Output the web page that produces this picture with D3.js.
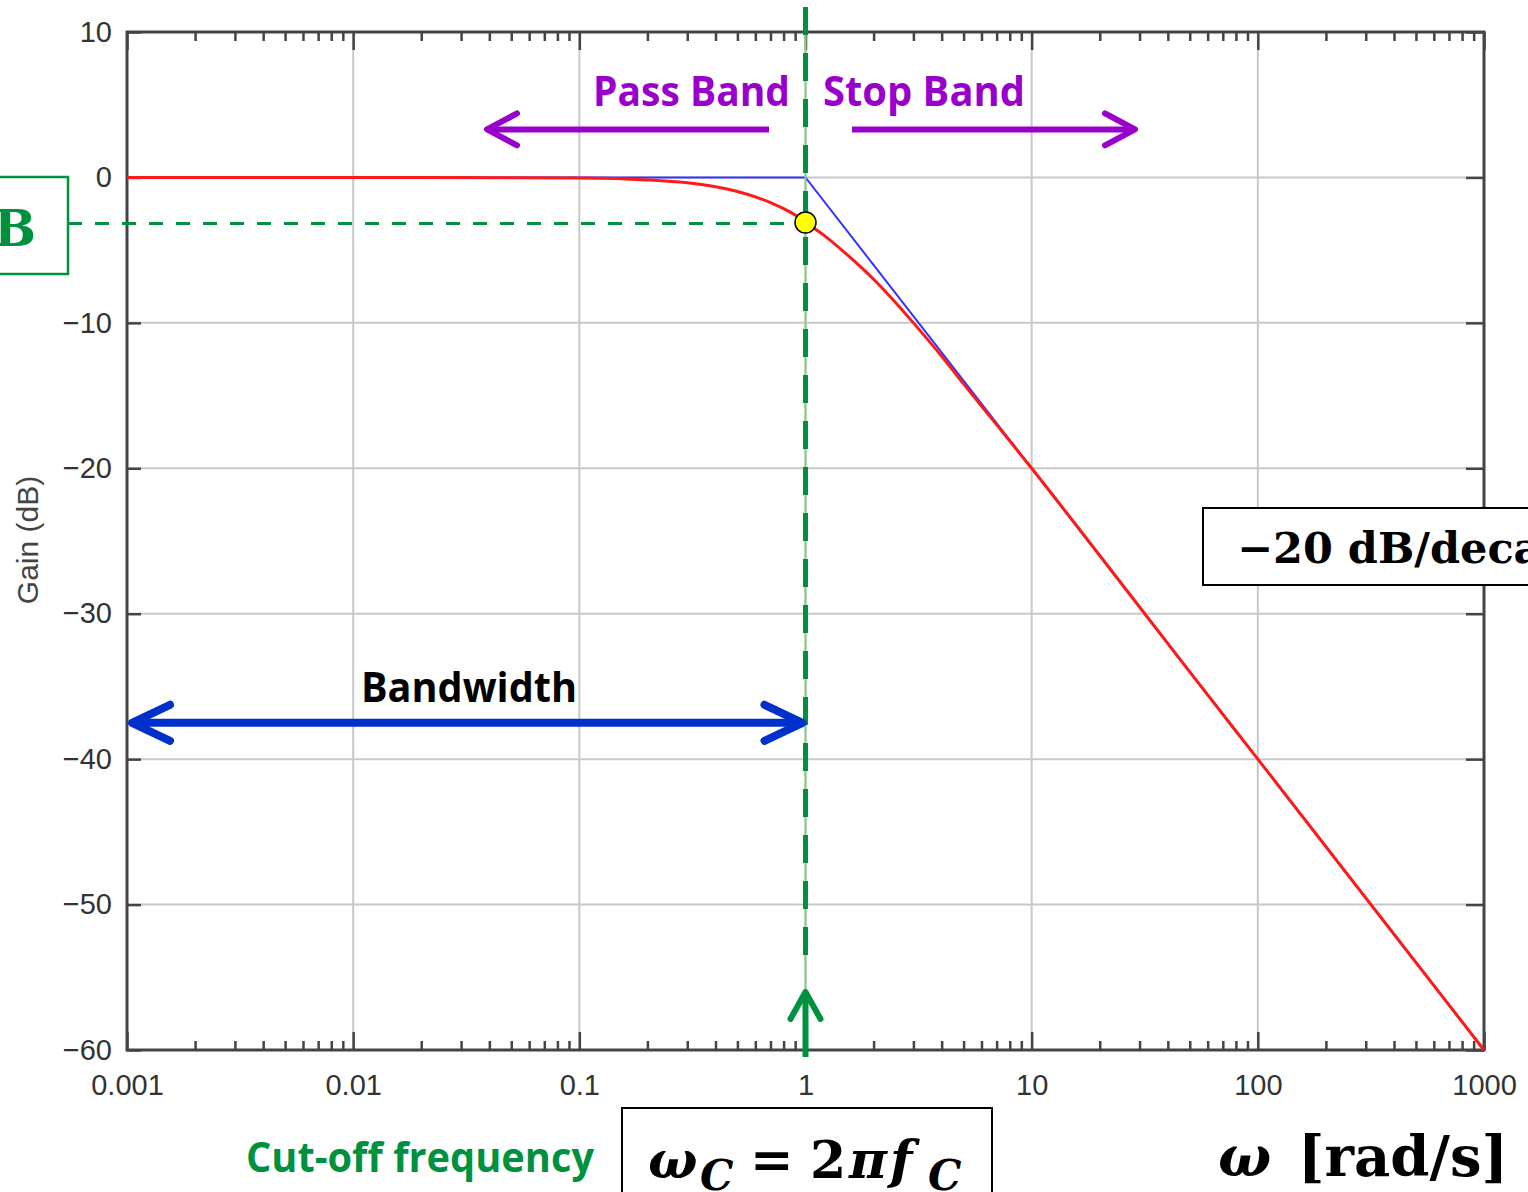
<!DOCTYPE html>
<html>
<head>
<meta charset="utf-8">
<script src="https://cdn.jsdelivr.net/npm/d3@7"></script>
<style>
  body { margin: 0; background: #fff; }
  svg { display: block; }
  .axis text { font-family: "Liberation Sans", Arial, sans-serif; font-size: 29px; fill: #333; }
  .axis path { display: none; }
  .axis line { stroke: #444; stroke-width: 2.5; }
</style>
</head>
<body>
<script>
// low-pass gain
const freq = [0.001, 0.01, 0.1, 0.2, 0.3, 0.4, 0.5, 0.6, 0.7, 0.8, 0.9, 1, 1.2, 1.5, 2, 2.5, 3, 4, 5, 7, 10, 20, 50, 100, 1000];
const gain = [0, 0, -0.04, -0.17, -0.37, -0.64, -0.97, -1.34, -1.73, -2.15, -2.58, -3.1, -3.95, -5.2, -7.0, -8.6, -10.0, -12.3, -14.2, -17.0, -20.0, -26.0, -34.0, -40.0, -60.0];

// straight-line asymptote
const asymFreq = [0.001, 1, 1000];
const asymGain = [0, 0, -60];

const cutoffFreq = 1, cutoffGain = -3.1;

const xTicks = [0.001, 0.01, 0.1, 1, 10, 100, 1000];
const xTickLabels = ["0.001", "0.01", "0.1", "1", "10", "100", "1000"];
const yTicks = [10, 0, -10, -20, -30, -40, -50, -60];

const W = 1528, H = 1192;
const margin = { top: 32, right: 1484, bottom: 1050, left: 127 };

const x = d3.scaleLog().domain([0.001, 1000]).range([margin.left, margin.right]);
const y = d3.scaleLinear().domain([-60, 10]).range([margin.bottom, margin.top]);

const svg = d3.select("body").append("svg")
    .attr("width", W)
    .attr("height", H);

const green = "#00913f", purple = "#9900cc", blue = "#0030cc";

// grid
svg.append("g")
    .selectAll("line")
    .data(xTicks)
    .enter().append("line")
      .attr("x1", d => x(d)).attr("x2", d => x(d))
      .attr("y1", margin.top).attr("y2", margin.bottom)
      .attr("stroke", "#c8c8c8").attr("stroke-width", 2);

svg.append("g")
    .selectAll("line")
    .data(yTicks)
    .enter().append("line")
      .attr("x1", margin.left).attr("x2", margin.right)
      .attr("y1", d => y(d)).attr("y2", d => y(d))
      .attr("stroke", "#c8c8c8").attr("stroke-width", 2);

// minor ticks
const minor = [];
for (let e = -3; e < 3; e++) for (let k = 2; k <= 9; k++) minor.push(k * Math.pow(10, e));

svg.append("g").attr("class", "axis")
    .attr("transform", `translate(0,${margin.bottom})`)
    .call(d3.axisBottom(x).tickValues(minor).tickSize(-9).tickFormat(""));
svg.append("g").attr("class", "axis")
    .attr("transform", `translate(0,${margin.top})`)
    .call(d3.axisTop(x).tickValues(minor).tickSize(-9).tickFormat(""));

// major ticks + labels
svg.append("g").attr("class", "axis")
    .attr("transform", `translate(0,${margin.bottom})`)
    .call(d3.axisBottom(x).tickValues(xTicks).tickSize(-18).tickPadding(24)
      .tickFormat((d, i) => xTickLabels[i]));
svg.append("g").attr("class", "axis")
    .attr("transform", `translate(0,${margin.top})`)
    .call(d3.axisTop(x).tickValues(xTicks).tickSize(-18).tickFormat(""));
svg.append("g").attr("class", "axis")
    .attr("transform", `translate(${margin.left},0)`)
    .call(d3.axisLeft(y).tickValues(yTicks).tickSize(-14).tickPadding(15));
svg.append("g").attr("class", "axis")
    .attr("transform", `translate(${margin.right},0)`)
    .call(d3.axisRight(y).tickValues(yTicks).tickSize(-18).tickFormat(""));

// frame
svg.append("rect")
    .attr("x", margin.left).attr("y", margin.top)
    .attr("width", margin.right - margin.left).attr("height", margin.bottom - margin.top)
    .attr("fill", "none").attr("stroke", "#444").attr("stroke-width", 3);

svg.append("text")
    .attr("transform", "translate(38,540) rotate(-90)")
    .attr("text-anchor", "middle")
    .attr("font-family", "Liberation Sans, Arial, sans-serif")
    .attr("font-size", 30)
    .attr("fill", "#444")
    .text("Gain (dB)");

// curves
const line = d3.line()
    .x(d => x(d[0]))
    .y(d => y(d[1]));

svg.append("path")
    .datum(asymFreq.map((f, i) => [f, asymGain[i]]))
    .attr("d", line.curve(d3.curveLinear))
    .attr("fill", "none").attr("stroke", "#3333ff").attr("stroke-width", 2);

svg.append("path")
    .datum(freq.map((f, i) => [f, gain[i]]))
    .attr("d", line.curve(d3.curveMonotoneX))
    .attr("fill", "none").attr("stroke", "#ff1a1a").attr("stroke-width", 3);

// cut-off markers
const cx = x(cutoffFreq), cy = y(cutoffGain);

svg.append("line")
    .attr("x1", 68).attr("x2", cx - 8)
    .attr("y1", cy + 1).attr("y2", cy + 1)
    .attr("stroke", green).attr("stroke-width", 3)
    .attr("stroke-dasharray", "14,13");

svg.append("line")
    .attr("x1", cx).attr("x2", cx)
    .attr("y1", 7).attr("y2", 1050)
    .attr("stroke", "#8cc98c").attr("stroke-width", 2);

svg.append("line")
    .attr("x1", cx).attr("x2", cx)
    .attr("y1", 7).attr("y2", 968)
    .attr("stroke", green).attr("stroke-width", 5)
    .attr("stroke-dasharray", "28,18");

svg.append("circle")
    .attr("cx", cx).attr("cy", cy).attr("r", 10.5)
    .attr("fill", "#ffff00").attr("stroke", "#000").attr("stroke-width", 1.5);

// arrows
function arrow(x1, y1, x2, y2, color, w) {
  const g = svg.append("g")
      .attr("fill", "none").attr("stroke", color).attr("stroke-width", w)
      .attr("stroke-linecap", "round").attr("stroke-linejoin", "round");
  g.append("line").attr("x1", x1).attr("y1", y1).attr("x2", x2).attr("y2", y2)
      .attr("stroke-linecap", "butt");
  return g;
}
function head(g, tx, ty, dx, dy, vertical) {
  const pts = vertical
    ? [[tx - dy, ty + dx], [tx, ty], [tx + dy, ty + dx]]
    : [[tx + dx, ty - dy], [tx, ty], [tx + dx, ty + dy]];
  g.append("path").attr("d", d3.line()(pts));
}

// bandwidth
const bwY = y(-37.5);
const bw = arrow(x(0.001) + 6, bwY, cx - 6, bwY, blue, 8);
head(bw, x(0.001) + 5, bwY, 38, 18);
head(bw, cx - 3, bwY, -38, 18);

// pass / stop band
const pbY = y(3.3);
const pb = arrow(769, pbY, 492, pbY, purple, 6);
head(pb, 487, pbY, 30, 16);
const sb = arrow(852, pbY, 1130, pbY, purple, 6);
head(sb, 1135, pbY, -30, 16);

// cut-off arrow
const ca = arrow(cx, 1057, cx, 992, green, 6);
head(ca, cx, 992, 27, 15, true);

// labels
function label(txt, xx, yy, len, color, size) {
  return svg.append("text")
      .attr("x", xx).attr("y", yy)
      .attr("font-family", "Open Sans, sans-serif")
      .attr("font-weight", 700)
      .attr("font-size", size)
      .attr("fill", color)
      .attr("textLength", len)
      .attr("lengthAdjust", "spacingAndGlyphs")
      .text(txt);
}
label("Pass Band", 593, 106, 197, purple, 42);
label("Stop Band", 823, 106, 202, purple, 42);
label("Bandwidth", 361, 702, 216, "#000", 42);
label("Cut-off frequency", 246, 1172, 348, green, 42);

// -3 dB box (cut by the page edge)
svg.append("rect")
    .attr("x", -40).attr("y", 177).attr("width", 108).attr("height", 97)
    .attr("fill", "none").attr("stroke", green).attr("stroke-width", 2.5);
svg.append("text")
    .attr("x", 36).attr("y", 246)
    .attr("text-anchor", "end")
    .attr("font-family", "DejaVu Serif, serif")
    .attr("font-weight", 700)
    .attr("font-size", 50)
    .attr("fill", green)
    .text("−3 dB");

// slope box
svg.append("rect")
    .attr("x", 1203).attr("y", 508).attr("width", 400).attr("height", 77)
    .attr("fill", "#fff").attr("stroke", "#000").attr("stroke-width", 2);
svg.append("text")
    .attr("x", 1237).attr("y", 563)
    .attr("font-family", "DejaVu Serif, serif")
    .attr("font-weight", 700)
    .attr("font-size", 43)
    .attr("fill", "#000")
    .text("−20 dB/decade");

// formula box
svg.append("rect")
    .attr("x", 622).attr("y", 1108).attr("width", 370).attr("height", 120)
    .attr("fill", "#fff").attr("stroke", "#000").attr("stroke-width", 2);

const serif = "DejaVu Serif, serif";
const f = svg.append("text")
    .attr("y", 1178)
    .attr("font-family", serif)
    .attr("font-weight", 700)
    .attr("font-size", 52)
    .attr("fill", "#000");
f.append("tspan").attr("x", 648).attr("font-style", "italic").text("ω");
f.append("tspan").attr("x", 700).attr("font-style", "italic").attr("font-size", 42).attr("dy", 12).text("C");
f.append("tspan").attr("x", 750).attr("dy", -12).text("=");
f.append("tspan").attr("x", 810).text("2");
f.append("tspan").attr("x", 849).attr("font-style", "italic").text("π");
f.append("tspan").attr("x", 890).attr("font-style", "italic").text("f");
f.append("tspan").attr("x", 928).attr("font-style", "italic").attr("font-size", 42).attr("dy", 12).text("C");

svg.append("text")
    .attr("x", 1218).attr("y", 1176)
    .attr("font-family", serif)
    .attr("font-weight", 700)
    .attr("font-style", "italic")
    .attr("font-size", 56)
    .attr("fill", "#000")
    .text("ω");
svg.append("text")
    .attr("x", 1298).attr("y", 1176)
    .attr("font-family", serif)
    .attr("font-weight", 700)
    .attr("font-size", 56)
    .attr("fill", "#000")
    .attr("textLength", 210)
    .attr("lengthAdjust", "spacingAndGlyphs")
    .text("[rad/s]");
</script>
</body>
</html>
